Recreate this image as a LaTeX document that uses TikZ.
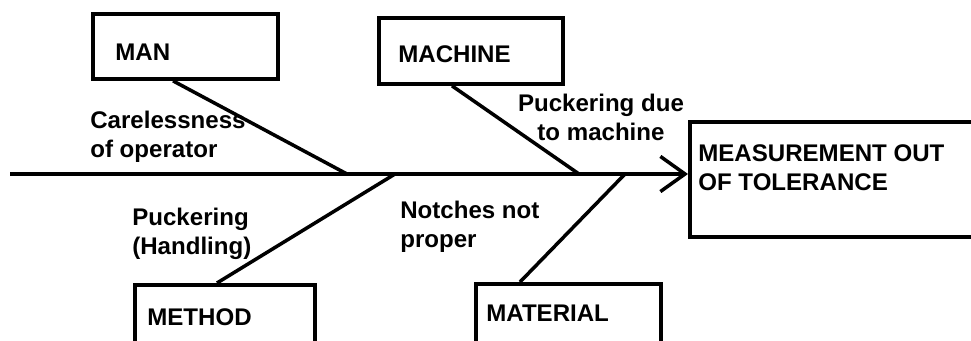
\documentclass[tikz,border=0pt]{standalone}
\usepackage{fontspec}
\setmainfont{Liberation Sans}
\usetikzlibrary{arrows.meta,calc}

\begin{document}
\begin{tikzpicture}[
  x=0.02cm, y=-0.02cm,
  cause/.style={rectangle, draw, line width=2.2pt, anchor=north west, inner sep=0pt},
  txt/.style={font=\fontsize{13.7}{16.5}\selectfont\bfseries, inner sep=0pt, anchor=west, align=left},
  bone/.style={line width=2pt},
  spine/.style={line width=2.2pt, -{Straight Barb[length=14pt, width=20pt, line width=2pt]}}
]
\useasboundingbox (0,0) rectangle (971,341);
\clip (0,0) rectangle (971,341);

% cause boxes
\node[cause, minimum width=3.7cm, minimum height=1.3cm] (man) at (91,12) {};
\node[cause, minimum width=3.68cm, minimum height=1.32cm] (machine) at (377,16) {};
\node[cause, minimum width=3.6cm, minimum height=1.6cm] (method) at (133,283) {};
\node[cause, minimum width=3.7cm, minimum height=1.6cm] (material) at (474,282) {};
\node[cause, minimum width=6cm, minimum height=2.3cm] (effect) at (688,120) {};

\node[txt] (mantxt) at (115,52) {MAN};
\node[txt] (machinetxt) at (398,54) {MACHINE};
\node[txt] (methodtxt) at (147,317) {METHOD};
\node[txt] (materialtxt) at (486,313) {MATERIAL};
\node[txt] (effecttxt) at (698,167.5) {MEASUREMENT OUT\\OF TOLERANCE};

% spine and bones
\coordinate (tail) at (10,174);
\coordinate (j1) at (347,174);
\coordinate (j2) at (395,174);
\coordinate (j3) at (579,174);
\coordinate (j4) at (625,174);
\draw[spine] (tail) -- (effect.west |- tail);
\draw[bone] ($(man.south west)+(82,0)$) -- (j1);
\draw[bone] ($(machine.south west)+(75,0)$) -- (j2 -| j3);
\draw[bone] ($(method.north west)+(84,0)$) -- (j2);
\draw[bone] ($(material.north west)+(46,0)$) -- (j4);

% sub-causes
\node[txt] (c1) at (90,136.5) {Carelessness\\of operator};
\node[txt, align=center, anchor=center] (c2) at (601,117.5) {Puckering due\\to machine};
\node[txt] (c3) at (132,234) {Puckering\\(Handling)};
\node[txt] (c4) at (400,227) {Notches not\\proper};
\end{tikzpicture}
\end{document}
